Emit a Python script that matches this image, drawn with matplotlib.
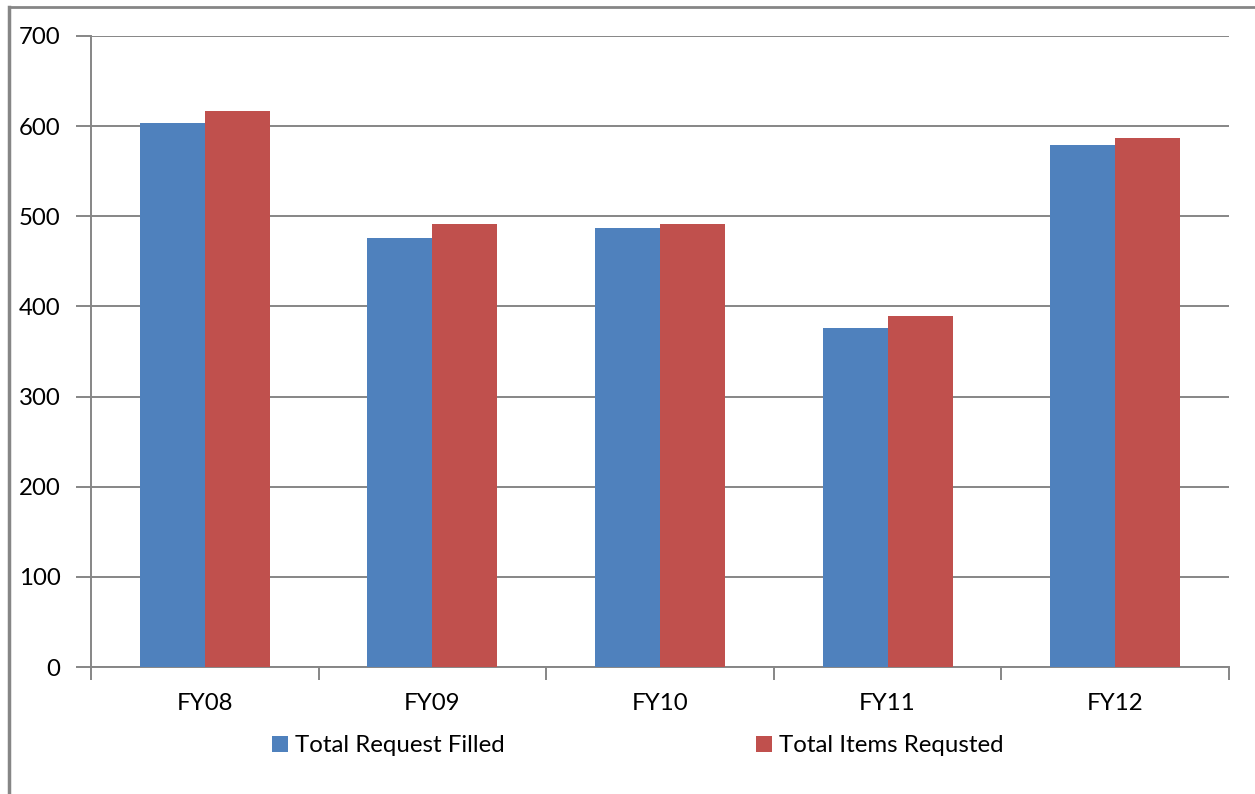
import matplotlib
matplotlib.use("Agg")
import matplotlib.pyplot as plt
from matplotlib.lines import Line2D
import numpy as np

# ── data ───────────────────────────────────────────────────────────────
years = ["FY08", "FY09", "FY10", "FY11", "FY12"]
requests_filled = [604, 476, 487, 376, 579]
items_requested = [617, 491, 491, 389, 587]
series_names = ["Total Request Filled", "Total Items Requsted"]

blue = "#4F81BD"
red = "#C0504D"
grey = "#868686"
fs = 17.3

plt.rcParams["font.family"] = ["Lato", "DejaVu Sans"]

fig = plt.figure(figsize=(12.55, 7.94), dpi=100)
ax = fig.add_axes([91 / 1255, 1 - 667 / 794, (1229 - 91) / 1255, (667 - 36) / 794])

x = np.arange(len(years))
w = 1 / 3.5
ax.bar(x - w / 2, requests_filled, w, color=blue, label=series_names[0], zorder=3)
ax.bar(x + w / 2, items_requested, w, color=red, label=series_names[1], zorder=3)

ax.set_xlim(-0.5, len(years) - 0.5)
ax.set_ylim(0, 700)
ax.set_yticks(range(0, 701, 100))
ax.yaxis.grid(True, color=grey, linewidth=1.4, zorder=0)

# category labels centred, tick marks on the boundaries
ax.set_xticks(x)
ax.set_xticklabels(years)
ax.set_xticks(np.arange(-0.5, len(years), 1), minor=True)
ax.tick_params(axis="x", which="major", length=0, pad=19, labelsize=fs)
ax.tick_params(axis="x", which="minor", length=9, width=1.4, color=grey)
ax.tick_params(axis="y", length=11, width=1.4, color=grey, pad=11, labelsize=fs)

for side in ("top", "right"):
    ax.spines[side].set_visible(False)
for side in ("left", "bottom"):
    ax.spines[side].set_color(grey)
    ax.spines[side].set_linewidth(1.4)

leg = ax.legend(loc="upper left", bbox_to_anchor=(0.1505, -0.093), ncol=2,
                frameon=False, fontsize=fs, handlelength=0.66, handleheight=0.66,
                handletextpad=0.3, columnspacing=10.45, borderaxespad=0)

# chart frame
fig.add_artist(Line2D([8.5 / 1255, 8.5 / 1255], [0, 1 - 6.5 / 794],
                      transform=fig.transFigure, color=grey, linewidth=2.5))
fig.add_artist(Line2D([8.5 / 1255, 1], [1 - 6.5 / 794, 1 - 6.5 / 794],
                      transform=fig.transFigure, color=grey, linewidth=2.0))

fig.savefig("out.png", dpi=100, facecolor="white")
